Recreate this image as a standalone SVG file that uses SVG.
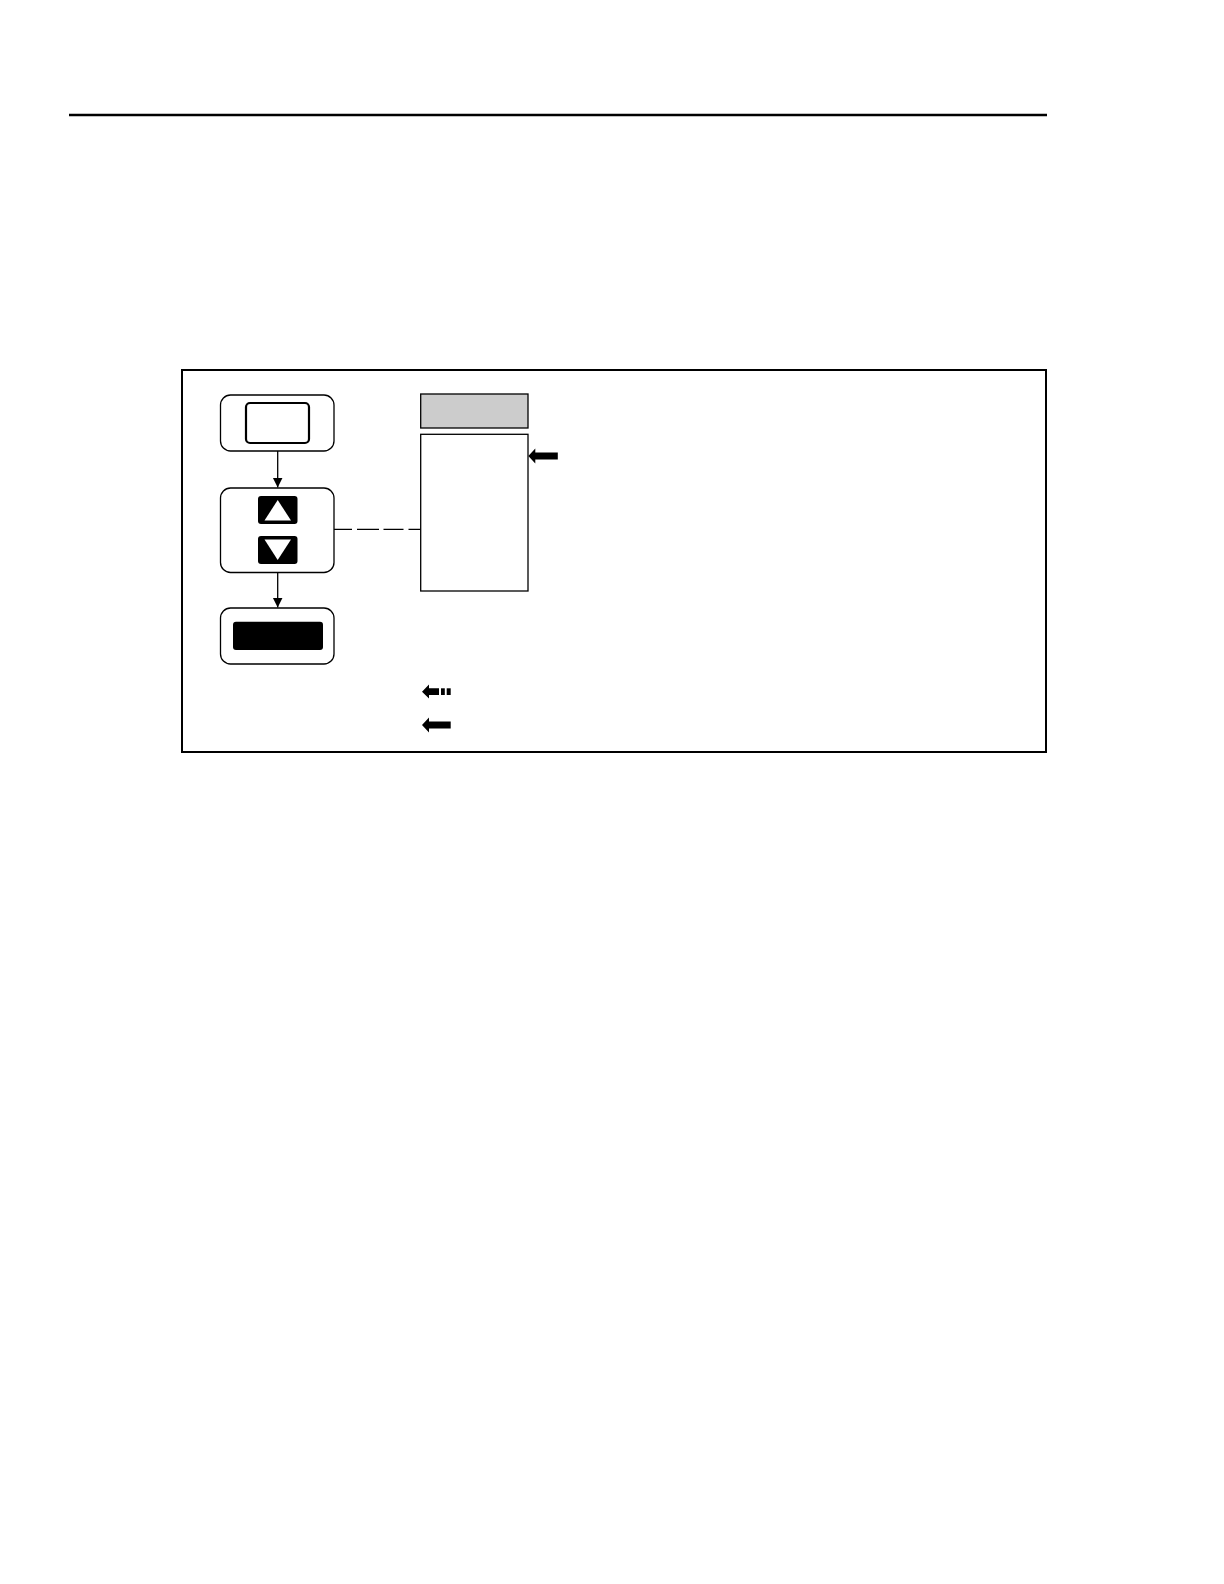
<svg xmlns="http://www.w3.org/2000/svg" width="1224" height="1584" viewBox="0 0 1224 1584">
<style>
.node{fill:#fff;stroke:#000;stroke-width:1.3}
.conn{stroke:#000;stroke-width:1.3;fill:none}
.blk{fill:#000}
</style>
<defs>
<marker id="ah" markerWidth="10" markerHeight="12" refX="10" refY="5" orient="auto" markerUnits="userSpaceOnUse">
<path d="M0,0 L10,5 L0,10 Z" fill="#000"/>
</marker>
<path id="bigArrow" d="M0,0 L7,-7.5 L7,-3.4 L29.5,-3.4 L29.5,3.4 L7,3.4 L7,7.5 Z" fill="#000"/>
</defs>
<rect width="1224" height="1584" fill="#fff"/>
<line x1="69" y1="115" x2="1047" y2="115" stroke="#000" stroke-width="2.5"/>
<rect x="182" y="370" width="864" height="382" fill="none" stroke="#000" stroke-width="2"/>
<g id="connectors">
<line class="conn" x1="277.7" y1="451" x2="277.7" y2="487.5" marker-end="url(#ah)"/>
<line class="conn" x1="277.7" y1="573" x2="277.7" y2="607.5" marker-end="url(#ah)"/>
<line class="conn" x1="334" y1="529.3" x2="420.7" y2="529.3" stroke-dasharray="18,5,22,4.5,20,5,20"/>
</g>
<g id="node-start">
<rect class="node" x="220.5" y="395" width="113.5" height="56" rx="10"/>
<rect x="246" y="403" width="63" height="40" rx="4" fill="#fff" stroke="#000" stroke-width="2.2"/>
</g>
<g id="node-updown">
<rect class="node" x="220.5" y="488" width="113.5" height="84.5" rx="10"/>
<rect class="blk" x="258" y="496" width="39.5" height="28" rx="3"/>
<path d="M264.5,520.5 L277.7,500 L291,520.5 Z" fill="#fff"/>
<rect class="blk" x="258" y="536" width="39.5" height="28" rx="3"/>
<path d="M264.5,539.5 L291,539.5 L277.7,560 Z" fill="#fff"/>
</g>
<g id="node-end">
<rect class="node" x="220.5" y="608" width="113.5" height="56" rx="10"/>
<rect class="blk" x="233" y="621.7" width="90" height="28.3" rx="3"/>
</g>
<g id="node-header">
<rect x="420.7" y="394" width="107.3" height="34" fill="#cccccc" stroke="#000" stroke-width="1.3"/>
</g>
<g id="node-list">
<rect class="node" x="420.7" y="434.3" width="107.3" height="156.7"/>
</g>
<g id="pointer">
<use href="#bigArrow" x="528.3" y="456"/>
</g>
<g id="legend">
<path d="M422,691.7 L429,684.5 L429,688.3 L439,688.3 L439,695 L429,695 L429,698.5 Z" fill="#000"/>
<rect x="441" y="688.3" width="3.8" height="6.7" fill="#000"/>
<rect x="446.7" y="688.3" width="4" height="6.7" fill="#000"/>
<path d="M422,725 L429,717.5 L429,721.6 L450.7,721.6 L450.7,728.4 L429,728.4 L429,732.5 Z" fill="#000"/>
</g>
</svg>
